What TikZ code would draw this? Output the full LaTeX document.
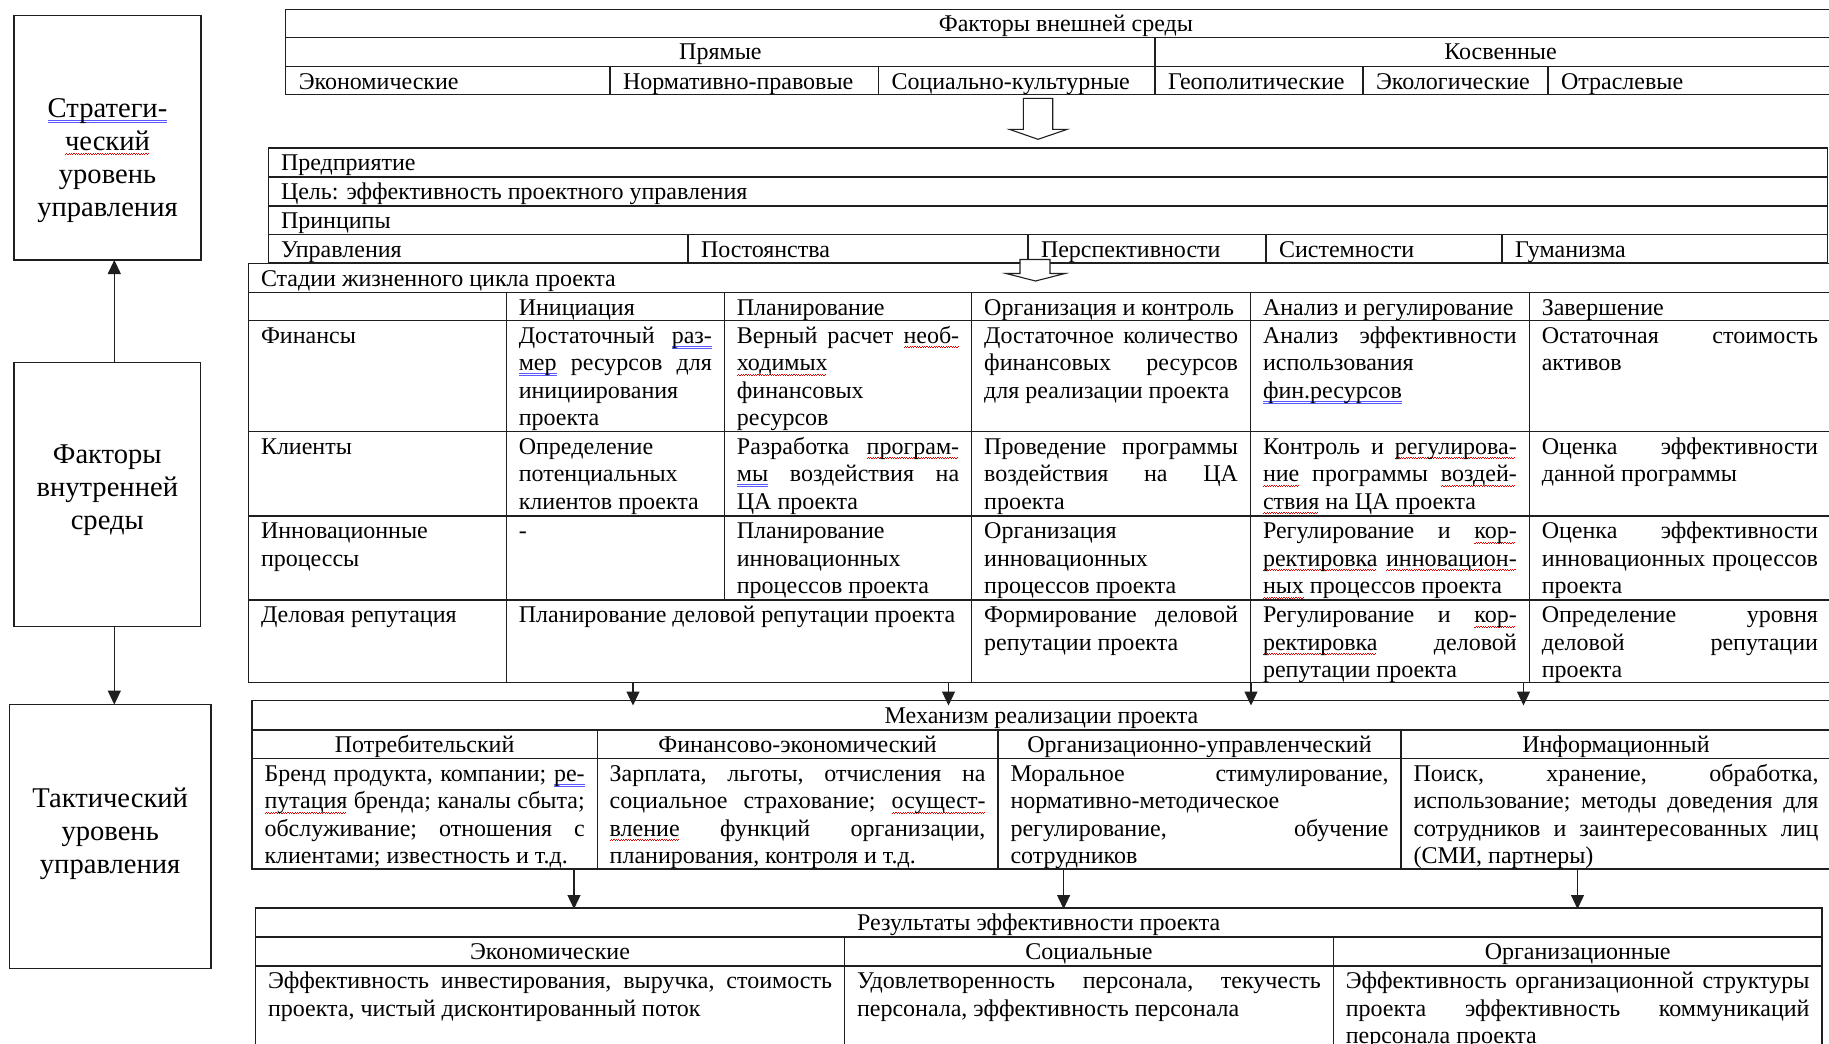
\documentclass[tikz,border=0pt]{standalone}
\usepackage{fontspec}
\setmainfont{Liberation Serif}
\usetikzlibrary{arrows.meta}

% fonts: table text and the three level boxes
\newcommand\cellfont{\fontsize{24}{27.6}\selectfont}
\newcommand\levelfont{\fontsize{28.6}{33}\selectfont}

% spell-check style marks under single words
\newsavebox\mkbox
\newcommand\spellwave[1]{\leavevmode\sbox\mkbox{#1}\rlap{\textcolor{red!90!black}{\leaders\hbox{\rule[-4.8pt]{1.2pt}{0.8pt}\rule[-3.8pt]{1.2pt}{0.8pt}}\hskip\wd\mkbox}}\usebox\mkbox}
\newcommand\spelldouble[1]{\leavevmode\sbox\mkbox{#1}\rlap{\textcolor{blue!65}{\rule[-3.4pt]{\wd\mkbox}{0.6pt}\llap{\rule[-5.4pt]{\wd\mkbox}{0.6pt}}}}\usebox\mkbox}

\tikzset{
  frame/.style={line width=1.2pt, draw=black!88},
  celltext/.style={inner sep=0pt, outer sep=0pt, anchor=base west, font=\cellfont, yshift=-1pt},
  centertext/.style={inner sep=0pt, outer sep=0pt, anchor=base, font=\cellfont, yshift=-1pt},
  cellbody/.style={inner sep=0pt, outer sep=0pt, anchor=base west, font=\cellfont, yshift=-1pt,
    align=justify, text width=#1pt,
    execute at begin node={\tolerance=10000 \hyphenpenalty=10000 \exhyphenpenalty=10000 \frenchspacing}},
  levelbox/.style={draw=black!88, line width=1.2pt, inner sep=0pt, outer sep=0pt},
  leveltext/.style={inner sep=0pt, outer sep=0pt, anchor=base, font=\levelfont, align=center, text width=#1pt},
  thinarrow/.style={line width=1.2pt, draw=black!88, -{Triangle[width=13pt,length=14pt]}},
  hollowarrow/.style={line width=1.1pt, draw=black!88, fill=white, line join=miter},
}

\begin{document}
\begin{tikzpicture}[x=1pt,y=-1pt]
\useasboundingbox (0,0) rectangle (1829,1044);
\fill[white] (0,0) rectangle (1829,1044);
\clip (0,0) rectangle (1829,1044);

% ---------- management levels (left column) ----------
\node[levelbox, minimum width=187pt, minimum height=244.5pt] (strat) at (107.5,137.75) {};
\node[levelbox, minimum width=186.6pt, minimum height=263.6pt] (intf) at (107.3,494.6) {};
\node[levelbox, minimum width=201.7pt, minimum height=263.6pt] (tact) at (110.15,836.4) {};
\node[leveltext=180] (strat-t) at (107.5,117) {\spelldouble{Стратеги-}\\\spellwave{ческий}\\уровень\\управления};
\node[leveltext=180] (intf-t) at (107.3,463.5) {Факторы\\внутренней\\среды};
\node[leveltext=195] (tact-t) at (110.15,807.5) {Тактический\\уровень\\управления};
\coordinate (lvlx) at (114.3,0);
\draw[thinarrow] (intf.north -| lvlx) -- (strat.south -| lvlx);
\draw[thinarrow] (intf.south -| lvlx) -- (tact.north -| lvlx);

% ---------- external factors ----------
\draw[frame] (285.8,9.3) rectangle (1846,94.5);
\draw[frame] (285.8,37.3) -- (1846,37.3) (285.8,66.5) -- (1846,66.5);
\draw[frame] (1155,37.3) -- (1155,94.5);
\foreach \x in {610,878.5,1363,1548} \draw[frame] (\x,66.5) -- (\x,94.5);
\node[centertext] (ext) at (1065.9,30.8) {Факторы внешней среды};
\node[centertext] (ext-dir) at (720.4,58.8) {Прямые};
\node[centertext] (ext-ind) at (1500.5,58.8) {Косвенные};
\node[celltext] (ext-econ) at (298.8,88) {Экономические};
\node[celltext] (ext-law) at (623,88) {Нормативно-правовые};
\node[celltext] (ext-soc) at (891.5,88) {Социально-культурные};
\node[celltext] (ext-geo) at (1168,88) {Геополитические};
\node[celltext] (ext-eco) at (1376,88) {Экологические};
\node[celltext] (ext-branch) at (1561,88) {Отраслевые};

% ---------- enterprise ----------
\draw[frame] (268.3,148) rectangle (1827.3,263);
\foreach \y in {177,206,234.5} \draw[frame] (268.3,\y) -- (1827.3,\y);
\foreach \x in {688,1028,1266,1502} \draw[frame] (\x,234.5) -- (\x,263);
\node[celltext] (ent) at (281,169.5) {Предприятие};
\node[celltext] (goal) at (281,198.5) {Цель: эффективность проектного управления};
\node[celltext] (princ) at (281,227.5) {Принципы};
\node[celltext] (pr1) at (281,256) {Управления};
\node[celltext] (pr2) at (701,256) {Постоянства};
\node[celltext] (pr3) at (1041,256) {Перспективности};
\node[celltext] (pr4) at (1279,256) {Системности};
\node[celltext] (pr5) at (1515,256) {Гуманизма};

% ---------- project life-cycle stages ----------
\draw[frame] (248.5,263.5) rectangle (1831,682.5);
\foreach \y in {292.5,320.5,431.5,516,600} \draw[frame] (248.5,\y) -- (1831,\y);
\foreach \x in {506.3,971.7,1250.5,1529.3} \draw[frame] (\x,292.5) -- (\x,682.5);
\draw[frame] (724.4,292.5) -- (724.4,600);
\node[celltext] (stages) at (261,285) {Стадии жизненного цикла проекта};
\node[celltext] (h-init) at (518.8,314) {Инициация};
\node[celltext] (h-plan) at (736.9,314) {Планирование};
\node[celltext] (h-org) at (984.2,314) {Организация и контроль};
\node[celltext] (h-anl) at (1263,314) {Анализ и регулирование};
\node[celltext] (h-end) at (1541.8,314) {Завершение};

\node[celltext] (r-fin) at (261,342) {Финансы};
\node[celltext] (r-cli) at (261,453) {Клиенты};
\node[cellbody=232.8] (r-inn) at (261,537.5) {Инновационные\newline процессы};
\node[celltext] (r-rep) at (261,621.5) {Деловая репутация};

\node[cellbody=193.1] (fin1) at (518.8,342) {Достаточный \spelldouble{раз-}\linebreak \spelldouble{мер} ресурсов для\linebreak инициирования\newline проекта};
\node[cellbody=222.3] (fin2) at (736.9,342) {Верный расчет \spellwave{необ-}\linebreak \spellwave{ходимых}\newline финансовых\newline ресурсов};
\node[cellbody=253.8] (fin3) at (984.2,342) {Достаточное количество\linebreak финансовых ресурсов\linebreak для реализации проекта};
\node[cellbody=253.8] (fin4) at (1263,342) {Анализ эффективности\linebreak использования\newline \spelldouble{фин.ресурсов}};
\node[cellbody=276.2] (fin5) at (1541.8,342) {Остаточная стоимость\linebreak активов};

\node[cellbody=193.1] (cli1) at (518.8,453) {Определение\newline потенциальных\newline клиентов проекта};
\node[cellbody=222.3] (cli2) at (736.9,453) {Разработка \spellwave{програм-}\linebreak \spelldouble{мы} воздействия на\linebreak ЦА проекта};
\node[cellbody=253.8] (cli3) at (984.2,453) {Проведение программы\linebreak воздействия на ЦА\linebreak проекта};
\node[cellbody=253.8] (cli4) at (1263,453) {Контроль и \spellwave{регулирова-}\linebreak \spellwave{ние} программы \spellwave{воздей-}\linebreak \spellwave{ствия} на ЦА проекта};
\node[cellbody=276.2] (cli5) at (1541.8,453) {Оценка эффективности\linebreak данной программы};

\node[celltext] (inn1) at (518.8,537.5) {-};
\node[cellbody=222.3] (inn2) at (736.9,537.5) {Планирование\newline инновационных\newline процессов проекта};
\node[cellbody=253.8] (inn3) at (984.2,537.5) {Организация\newline инновационных\newline процессов проекта};
\node[cellbody=253.8] (inn4) at (1263,537.5) {Регулирование и \spellwave{кор-}\linebreak \spellwave{ректировка} \spellwave{инновацион-}\linebreak \spellwave{ных} процессов проекта};
\node[cellbody=276.2] (inn5) at (1541.8,537.5) {Оценка эффективности\linebreak инновационных процессов\linebreak проекта};

\node[cellbody=440.4] (rep12) at (518.8,621.5) {Планирование деловой репутации проекта};
\node[cellbody=253.8] (rep3) at (984.2,621.5) {Формирование деловой\linebreak репутации проекта};
\node[cellbody=253.8] (rep4) at (1263,621.5) {Регулирование и \spellwave{кор-}\linebreak \spellwave{ректировка} деловой\linebreak репутации проекта};
\node[cellbody=276.2] (rep5) at (1541.8,621.5) {Определение уровня\linebreak деловой репутации\linebreak проекта};

% ---------- implementation mechanism ----------
\draw[frame] (252,700.7) rectangle (1831,869);
\foreach \y in {730,758.7} \draw[frame] (252,\y) -- (1831,\y);
\foreach \x in {597.2,998,1401} \draw[frame] (\x,730) -- (\x,869);
\node[centertext] (mech) at (1041.5,722) {Механизм реализации проекта};
\node[centertext] (m-cons) at (424.6,751.5) {Потребительский};
\node[centertext] (m-fin) at (797.6,751.5) {Финансово-экономический};
\node[centertext] (m-org) at (1199.5,751.5) {Организационно-управленческий};
\node[centertext] (m-inf) at (1616,751.5) {Информационный};
\node[cellbody=320.2] (mb-cons) at (264.5,780) {Бренд продукта, компании; \spelldouble{ре-}\linebreak \spellwave{путация} бренда; каналы сбыта;\linebreak обслуживание; отношения с\linebreak клиентами; известность и т.д.};
\node[cellbody=375.8] (mb-fin) at (609.7,780) {Зарплата, льготы, отчисления на\linebreak социальное страхование; \spellwave{осущест-}\linebreak \spellwave{вление} функций организации,\linebreak планирования, контроля и т.д.};
\node[cellbody=378] (mb-org) at (1010.5,780) {Моральное стимулирование,\linebreak нормативно-методическое\newline регулирование, обучение\linebreak сотрудников};
\node[cellbody=405] (mb-inf) at (1413.5,780) {Поиск, хранение, обработка,\linebreak использование; методы доведения для\linebreak сотрудников и заинтересованных лиц\linebreak (СМИ, партнеры)};

% ---------- efficiency results ----------
\draw[frame] (255.5,908) rectangle (1822,1060);
\foreach \y in {937,966} \draw[frame] (255.5,\y) -- (1822,\y);
\foreach \x in {844.5,1333.3} \draw[frame] (\x,937) -- (\x,1060);
\node[centertext] (res) at (1038.75,929.5) {Результаты эффективности проекта};
\node[centertext] (r-econ) at (550,958.5) {Экономические};
\node[centertext] (r-soc) at (1088.9,958.5) {Социальные};
\node[centertext] (r-org) at (1577.7,958.5) {Организационные};
\node[cellbody=564] (rb-econ) at (268,987.5) {Эффективность инвестирования, выручка, стоимость\linebreak проекта, чистый дисконтированный поток};
\node[cellbody=463.8] (rb-soc) at (857,987.5) {Удовлетворенность персонала, текучесть\linebreak персонала, эффективность персонала};
\node[cellbody=463.7] (rb-org) at (1345.8,987.5) {Эффективность организационной структуры\linebreak проекта эффективность коммуникаций\linebreak персонала проекта};

% ---------- block arrows between the upper tables ----------
\draw[hollowarrow] (1023.3,98.3) -- (1052.7,98.3) -- (1052.7,129.3) -- (1067.3,129.3)
  -- (1038,139.3) -- (1009.3,129.3) -- (1023.3,129.3) -- cycle;
\draw[hollowarrow] (1020,259.5) -- (1050,259.5) -- (1050,273.5) -- (1065,273.5)
  -- (1035.5,281) -- (1006,273.5) -- (1020,273.5) -- cycle;

% ---------- arrows: stages -> mechanism -> results ----------
\coordinate (sm1a) at (633,682.5);   \coordinate (sm1b) at (633,705.5);
\coordinate (sm2a) at (948.5,682.5); \coordinate (sm2b) at (948.5,705.5);
\coordinate (sm3a) at (1251,682.5);  \coordinate (sm3b) at (1251,705.5);
\coordinate (sm4a) at (1523.5,682.5);\coordinate (sm4b) at (1523.5,705.5);
\draw[thinarrow] (sm1a) -- (sm1b);
\draw[thinarrow] (sm2a) -- (sm2b);
\draw[thinarrow] (sm3a) -- (sm3b);
\draw[thinarrow] (sm4a) -- (sm4b);
\coordinate (mr1a) at (574,869);    \coordinate (mr1b) at (574,909);
\coordinate (mr2a) at (1063.6,869); \coordinate (mr2b) at (1063.6,909);
\coordinate (mr3a) at (1577.5,869); \coordinate (mr3b) at (1577.5,909);
\draw[thinarrow] (mr1a) -- (mr1b);
\draw[thinarrow] (mr2a) -- (mr2b);
\draw[thinarrow] (mr3a) -- (mr3b);
\end{tikzpicture}
\end{document}
